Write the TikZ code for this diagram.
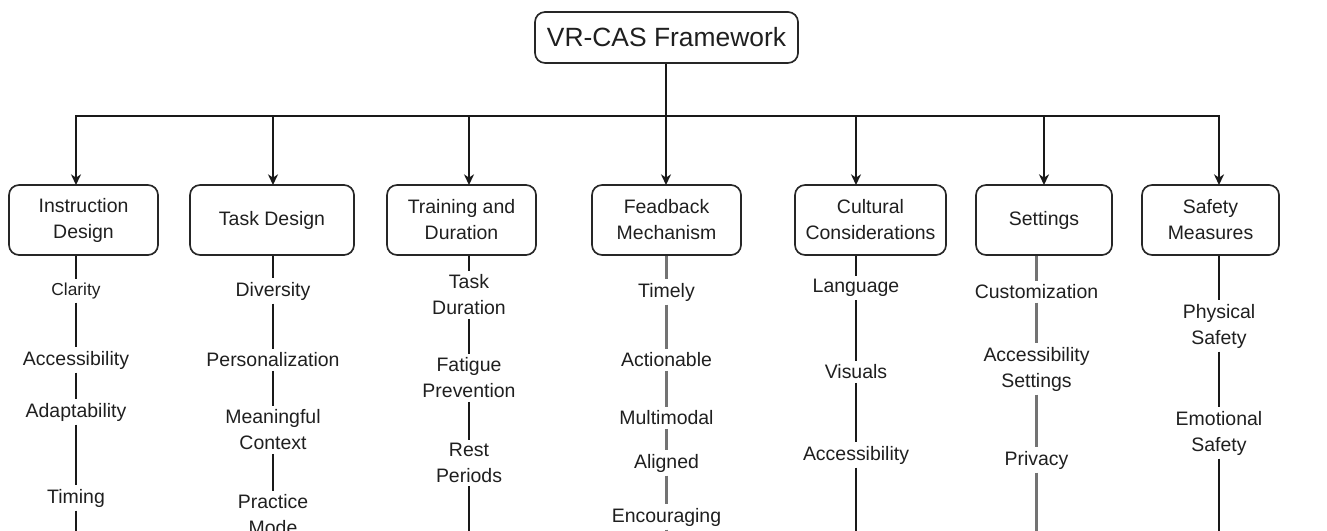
\documentclass[tikz,border=0pt]{standalone}
\usepackage{fontspec}
\setmainfont{Liberation Sans}
\usetikzlibrary{arrows.meta}
\begin{document}
\begin{tikzpicture}[x=0.75pt,y=-0.75pt,
  box/.style={draw=black!85, line width=1.25pt, rounded corners=7.5pt, align=center, inner sep=0pt, minimum height=52.5pt, text=black!88, font=\fontsize{14.6}{19.5}\selectfont},
  item/.style={align=center, inner sep=2.5pt, text=black!88, font=\fontsize{14.6}{19.5}\selectfont},
  link/.style={line width=1.35pt, draw=black!90},
  glink/.style={line width=1.6pt, draw=black!55},
  arr/.style={line width=1.35pt, draw=black!90, -{Stealth[length=8pt,width=7.5pt,inset=2.5pt]}},
]
\useasboundingbox (0,0) rectangle (1327,531);
\clip (0,0) rectangle (1327,531);

% root
\node[box, minimum width=197.25pt, minimum height=38.25pt, font=\fontsize{19.8}{23}\selectfont] (root) at (666.5,37.5) {VR-CAS Framework};

% second level
\node[box, minimum width=111.75pt] (ID) at (83.5,220) {Instruction\\Design};
\node[box, minimum width=123pt]    (TD) at (272,220)  {Task Design};
\node[box, minimum width=111.75pt] (TR) at (461.5,220) {Training and\\Duration};
\node[box, minimum width=111.75pt] (FB) at (666.5,220) {Feadback\\Mechanism};
\node[box, minimum width=113.25pt] (CC) at (870.5,220) {Cultural\\Considerations};
\node[box, minimum width=102pt]    (ST) at (1044,220)  {Settings};
\node[box, minimum width=102.75pt] (SM) at (1210.5,220) {Safety\\Measures};

% arrow targets
\coordinate (top) at (666,63);
\coordinate (bus) at (666,116);
\coordinate (a1) at (76,185);
\coordinate (a2) at (273,185);
\coordinate (a3) at (469,185);
\coordinate (a4) at (666,185);
\coordinate (a5) at (856,185);
\coordinate (a6) at (1044,185);
\coordinate (a7) at (1219,185);

\draw[link] (root.south -| top) -- (bus);
\foreach \t in {a1,a2,a3,a5,a6,a7} \draw[arr] (bus) -| (\t);
\draw[arr] (bus) -- (a4);

% Instruction Design chain
\node[item, font=\fontsize{13}{16}\selectfont] (i1) at (76,291) {Clarity};
\node[item] (i2) at (76,360) {Accessibility};
\node[item] (i3) at (76,412) {Adaptability};
\node[item] (i4) at (76,498) {Timing};
\coordinate (i5) at (76,545);
\draw[link] (ID.south -| i1) -- (i1.north);
\draw[link] (i1.south) -- (i2.north);
\draw[link] (i2.south) -- (i3.north);
\draw[link] (i3.south) -- (i4.north);
\draw[link] (i4.south) -- (i5);

% Task Design chain
\node[item] (t1) at (273,291) {Diversity};
\node[item] (t2) at (273,360) {Personalization};
\node[item] (t3) at (273,430) {Meaningful\\Context};
\node[item] (t4) at (273,515) {Practice\\Mode};
\draw[link] (TD.south -| t1) -- (t1.north);
\draw[link] (t1.south) -- (t2.north);
\draw[link] (t2.south) -- (t3.north);
\draw[link] (t3.south) -- (t4.north);

% Training chain
\node[item] (r1) at (469,295) {Task\\Duration};
\node[item] (r2) at (469,378) {Fatigue\\Prevention};
\node[item] (r3) at (469,463) {Rest\\Periods};
\coordinate (r4) at (469,545);
\draw[link] (TR.south -| r1) -- (r1.north);
\draw[link] (r1.south) -- (r2.north);
\draw[link] (r2.south) -- (r3.north);
\draw[link] (r3.south) -- (r4);

% Feedback chain
\node[item] (f1) at (666.5,292) {Timely};
\node[item] (f2) at (666.5,360) {Actionable};
\node[item] (f3) at (666.5,418) {Multimodal};
\node[item] (f4) at (666.5,463) {Aligned};
\node[item] (f5) at (666.5,517) {Encouraging};
\coordinate (f6) at (666.5,560);
\draw[glink] (FB.south -| f1) -- (f1.north);
\draw[glink] (f1.south) -- (f2.north);
\draw[glink] (f2.south) -- (f3.north);
\draw[glink] (f3.south) -- (f4.north);
\draw[glink] (f4.south) -- (f5.north);
\draw[glink] (f5.south) -- (f6);

% Cultural chain
\node[item] (c1) at (856,288) {Language};
\node[item] (c2) at (856,372) {Visuals};
\node[item] (c3) at (856,455) {Accessibility};
\coordinate (c4) at (856,545);
\draw[link] (CC.south -| c1) -- (c1.north);
\draw[link] (c1.south) -- (c2.north);
\draw[link] (c2.south) -- (c3.north);
\draw[link] (c3.south) -- (c4);

% Settings chain
\node[item] (s1) at (1036.5,292) {Customization};
\node[item] (s2) at (1036.5,369) {Accessibility\\Settings};
\node[item] (s3) at (1036.5,460) {Privacy};
\coordinate (s4) at (1036.5,545);
\draw[glink] (ST.south -| s1) -- (s1.north);
\draw[glink] (s1.south) -- (s2.north);
\draw[glink] (s2.south) -- (s3.north);
\draw[glink] (s3.south) -- (s4);

% Safety chain
\node[item] (m1) at (1219,326) {Physical\\Safety};
\node[item] (m2) at (1219,433) {Emotional\\Safety};
\coordinate (m3) at (1219,545);
\draw[link] (SM.south -| m1) -- (m1.north);
\draw[link] (m1.south) -- (m2.north);
\draw[link] (m2.south) -- (m3);
\end{tikzpicture}
\end{document}
